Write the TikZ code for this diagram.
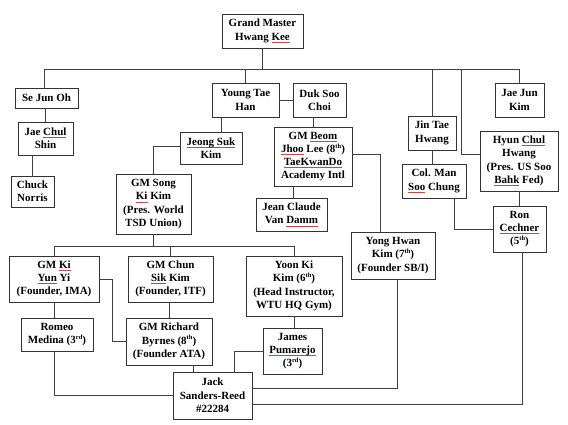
\documentclass[tikz,border=0pt]{standalone}
\usepackage{fontspec}
\setmainfont{Liberation Serif}
\usepackage{xcolor}
\definecolor{squig}{rgb}{0.72,0.3,0.3}
\newcommand\sq[1]{{\setbox0\hbox{#1}\rlap{\textcolor{squig}{\rule[-2.2pt]{\wd0}{0.5pt}}}\box0}}
\newcommand\sps[1]{\raisebox{0.85ex}{\fontsize{6.5}{6.5}\selectfont #1}}
\tikzset{
  box/.style={draw=black!80, line width=0.8pt, fill=white, inner sep=0pt, align=center,
    font=\fontsize{11}{13.3}\selectfont\bfseries},
  conn/.style={draw=black!75, line width=0.8pt}
}
\newcommand\bx[6]{\node[box, minimum width=#4pt-#2pt, minimum height=#5pt-#3pt] (#1) at ({(#2+#4)/2},{(#3+#5)/2}) {#6};}
\begin{document}
\begin{tikzpicture}[x=1pt,y=-1pt]
\useasboundingbox[fill=white] (0,0) rectangle (568,425);
% boxes
\bx{gm}{222}{14}{303}{48}{Grand Master\\Hwang \sq{Kee}}
\bx{seoh}{15}{88}{78}{108}{Se Jun Oh}
\bx{yth}{212}{83}{279}{117}{Young Tae\\Han}
\bx{dsc}{293}{83}{346}{117}{Duk Soo\\Choi}
\bx{jjk}{495}{83}{544}{117}{Jae Jun\\Kim}
\bx{jth}{408}{116}{456}{150}{Jin Tae\\Hwang}
\bx{jcs}{18}{122}{73}{155}{Jae \sq{Chul}\\Shin}
\bx{chuck}{11}{176}{54}{207}{Chuck\\Norris}
\bx{jsk}{180}{132}{242}{164}{\sq{Jeong Suk}\\Kim}
\bx{gmsong}{116}{174}{191}{234}{GM Song\\\sq{Ki} Kim\\(Pres. World\\TSD Union)}
\bx{beom}{274}{127}{352}{186}{GM \sq{Beom}\\\sq{Jhoo} Lee (8\sps{th})\\\sq{TaeKwanDo}\\Academy Intl}
\bx{jcvd}{256}{198}{327}{231}{Jean Claude\\Van \sq{Damm}}
\bx{hch}{480}{131}{558}{191}{Hyun \sq{Chul}\\Hwang\\(Pres. US Soo\\\sq{Bahk} Fed)}
\bx{col}{402}{164}{466}{198}{Col. Man\\\sq{Soo} Chung}
\bx{ron}{493}{206}{546}{252}{Ron\\\sq{Cechner}\\(5\sps{th})}
\bx{yong}{351}{232}{435}{279}{Yong Hwan\\Kim (7\sps{th})\\(Founder SB/I)}
\bx{kyy}{9}{256}{99}{302}{GM \sq{Ki}\\\sq{Yun} Yi\\(Founder, IMA)}
\bx{csk}{128}{256}{213}{302}{GM Chun\\\sq{Sik} Kim\\(Founder, ITF)}
\bx{yoon}{246}{256}{342}{316}{Yoon Ki\\Kim (6\sps{th})\\(Head Instructor,\\WTU HQ Gym)}
\bx{romeo}{21}{318}{93}{351}{Romeo\\Medina (3\sps{rd})}
\bx{byrnes}{126}{318}{212}{365}{GM Richard\\Byrnes (8\sps{th})\\(Founder ATA)}
\bx{james}{263}{328}{322}{374}{James\\\sq{Pumarejo}\\(3\sps{rd})}
\bx{jack}{173}{372}{252}{419}{Jack\\Sanders-Reed\\\#22284}
% helper coordinates
\coordinate (busL) at (44,69);
\coordinate (busR) at (519,69);
\coordinate (hk) at (461,154);
\coordinate (b2) at (55,246);
\coordinate (k1) at (112,280);
\coordinate (bj) at (293,0);
% connectors
\draw[conn] (gm.south) -- (gm.south |- busL);
\draw[conn] (busL) -- (busR);
\draw[conn] (busL) -- (busL |- seoh.north);
\draw[conn] (yth.north |- busL) -- (yth.north);
\draw[conn] (jth.north |- busL) -- (jth.north);
\draw[conn] (hk |- busL) -- (hk) -- (hk -| hch.west);
\draw[conn] (busR) -- (busR |- jjk.north);
\draw[conn] (yth.east) -- (dsc.west);
\draw[conn] (jcs.north) -- (jcs.north |- seoh.south);
\draw[conn] (chuck.north) -- (chuck.north |- jcs.south);
\draw[conn] ([xshift=10pt]jsk.north) -- ([xshift=10pt]jsk.north |- yth.south);
\draw[conn] ([yshift=1.5pt]jsk.west) -| (gmsong.north);
\draw[conn] (gmsong.south) -- (gmsong.south |- b2);
\draw[conn] (kyy.north) -- (kyy.north |- b2) -- (yoon.north |- b2) -- (yoon.north);
\draw[conn] (csk.north) -- (csk.north |- b2);
\draw[conn] (kyy.east) -| (k1 |- byrnes.west) -- (byrnes.west);
\draw[conn] (kyy.south) -- (kyy.south |- romeo.north);
\draw[conn] (csk.south -| byrnes.north) -- (byrnes.north);
\draw[conn] ([xshift=-19.5pt]jack.north) -- ([xshift=-19.5pt]jack.north |- byrnes.south);
\draw[conn] (kyy.south |- romeo.south) |- (jack.west);
\draw[conn] (yoon.south) -- (yoon.south |- james.north);
\draw[conn] ([xshift=21.5pt]jack.north) |- (james.west);
\draw[conn] ([yshift=7.5pt]jack.east) -| ([xshift=4pt]yong.south);
\draw[conn] ([yshift=-8.5pt]jack.east) -| ([xshift=2.5pt]ron.south);
\draw[conn] (beom.north) -- (beom.north |- dsc.south);
\draw[conn] (bj |- jcvd.north) -- (bj |- beom.south);
\draw[conn] ([yshift=2pt]beom.east) -| ([xshift=-13pt]yong.north);
\draw[conn] (jth.south) -- (jth.south |- col.north);
\draw[conn] ([xshift=20pt]col.south) |- (ron.west);
\draw[conn] (hch.south) -- (hch.south |- ron.north);
\end{tikzpicture}
\end{document}
